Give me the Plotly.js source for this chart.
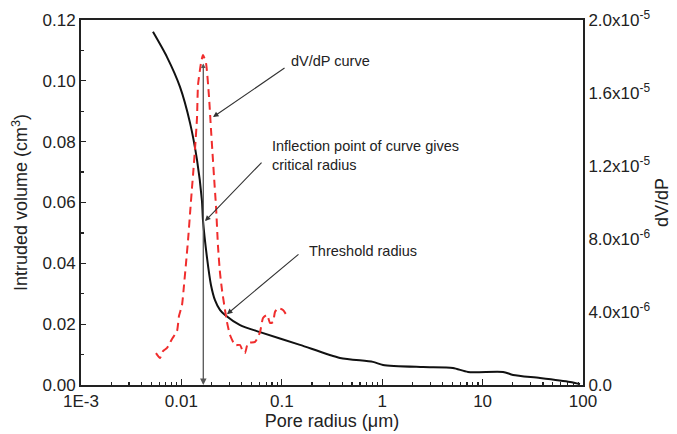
<!DOCTYPE html>
<html>
<head>
<meta charset="utf-8">
<script src="https://cdn.plot.ly/plotly-3.0.1.min.js"></script>
<style>html,body{margin:0;padding:0;background:#fff;}#chart{width:677px;height:434px;}</style>
</head>
<body>
<div id="chart"></div>
<script>
// Cumulative intruded volume (left axis)
const volRadius = [0.00521, 0.00719, 0.00968, 0.0122, 0.0143, 0.0160, 0.0164, 0.0180, 0.0197, 0.0216, 0.0242, 0.0272, 0.0384, 0.0607, 0.1517, 0.380, 0.809, 1.02, 2.55, 5.07, 7.16, 16.0, 20.1, 37.3, 74.3, 93.3];
const volValue  = [0.1161, 0.1078, 0.0980, 0.0861, 0.0740, 0.0608, 0.0542, 0.0418, 0.0329, 0.0279, 0.0247, 0.0230, 0.0197, 0.0174, 0.0132, 0.0089, 0.0076, 0.0066, 0.0059, 0.0056, 0.0043, 0.0043, 0.0033, 0.0023, 0.0010, 0.0003];

// dV/dP curve (right axis)
const dvdpRadius = [0.00558, 0.00612, 0.00656, 0.00719, 0.00806, 0.00904, 0.00946, 0.01014, 0.01062, 0.01112, 0.01165, 0.0122, 0.01277, 0.01306, 0.01368, 0.0143, 0.01464, 0.01568, 0.0164, 0.01758, 0.01884, 0.01973, 0.02114, 0.02213, 0.02317, 0.02424, 0.02537, 0.02718, 0.02845, 0.03048, 0.0342, 0.03837, 0.04111, 0.0430, 0.0461, 0.0541, 0.0607, 0.0650, 0.0713, 0.0763, 0.0817, 0.0855, 0.0916, 0.1028, 0.1127];
const dvdpValue  = [1.75e-6, 1.48e-6, 1.86e-6, 2.03e-6, 2.52e-6, 2.96e-6, 3.78e-6, 4.38e-6, 5.48e-6, 6.68e-6, 7.95e-6, 9.42e-6, 1.085e-5, 1.151e-5, 1.299e-5, 1.463e-5, 1.644e-5, 1.764e-5, 1.808e-5, 1.764e-5, 1.578e-5, 1.397e-5, 1.14e-5, 9.75e-6, 7.56e-6, 6.14e-6, 5.21e-6, 4.11e-6, 3.45e-6, 2.74e-6, 2.19e-6, 2.19e-6, 1.81e-6, 1.75e-6, 2.3e-6, 2.36e-6, 2.9e-6, 3.67e-6, 3.84e-6, 3.40e-6, 3.45e-6, 4.0e-6, 4.22e-6, 4.11e-6, 3.78e-6];

// Annotated points (radius, left-axis value)
const criticalRadius = 0.01652;
const criticalTop = 0.1062;
const dvdpPointer = [0.02065, 0.0881];
const inflectionPoint = [0.01718, 0.0539];
const thresholdPoint = [0.02845, 0.0233];

// Label anchors (radius, left-axis value)
const dvdpLabelPos = [0.118, 0.1065];
const inflectionLabelPos = [0.0762, 0.0753];
const thresholdLabelPos = [0.178, 0.0441];

// Ticks
const xTickVals = [0.001, 0.01, 0.1, 1, 10, 100];
const xTickText = ["1E-3", "0.01", "0.1", "1", "10", "100"];
const y2TickVals = [0, 4e-6, 8e-6, 1.2e-5, 1.6e-5, 2e-5];
const y2TickText = ["0.0", "4.0x10<sup>-6</sup>", "8.0x10<sup>-6</sup>", "1.2x10<sup>-5</sup>", "1.6x10<sup>-5</sup>", "2.0x10<sup>-5</sup>"];

const xMinor = [];
for (let d = -3; d < 2; d++) for (let k = 2; k <= 9; k++) xMinor.push(k * Math.pow(10, d));

const FONT = "Liberation Sans, Arial, sans-serif";
const TXT = "#222";

const traces = [
  { x: volRadius, y: volValue, type: "scatter", mode: "lines",
    line: { color: "#111", width: 2, shape: "spline", smoothing: 0.7 }, yaxis: "y", hoverinfo: "skip" },
  { x: dvdpRadius, y: dvdpValue, type: "scatter", mode: "lines",
    line: { color: "rgb(240,45,45)", width: 2, dash: "8px,5px", shape: "spline", smoothing: 0.5 }, yaxis: "y2", hoverinfo: "skip" }
];

const annFont = { family: FONT, size: 14.5, color: TXT };
const L = Math.log10;

const layout = {
  width: 677, height: 434,
  margin: { l: 81, r: 94, t: 20, b: 49 },
  paper_bgcolor: "#fff", plot_bgcolor: "#fff",
  showlegend: false,
  font: { family: FONT, size: 17, color: TXT },
  xaxis: {
    type: "log", range: [-3, 2],
    tickmode: "array", tickvals: xTickVals, ticktext: xTickText,
    ticks: "inside", ticklen: 6, tickwidth: 1.3, tickcolor: "#222",
    minor: { tickmode: "array", tickvals: xMinor, ticks: "inside", ticklen: 3, tickwidth: 1.2, tickcolor: "#222", showgrid: false },
    showline: true, linecolor: "#222", linewidth: 2, mirror: true,
    showgrid: false, zeroline: false,
    tickfont: { family: FONT, size: 17, color: TXT },
    title: { text: "Pore radius (\u03bcm)", font: { family: FONT, size: 18, color: TXT }, standoff: 4 }
  },
  yaxis: {
    range: [0, 0.12], tickmode: "linear", tick0: 0, dtick: 0.02, tickformat: ".2f",
    ticks: "inside", ticklen: 5, tickwidth: 1.3, tickcolor: "#222",
    minor: { dtick: 0.01, ticks: "inside", ticklen: 3, tickwidth: 1.2, tickcolor: "#222", showgrid: false },
    showline: true, linecolor: "#222", linewidth: 2, mirror: false,
    showgrid: false, zeroline: false,
    tickfont: { family: FONT, size: 17, color: TXT },
    title: { text: "Intruded volume (cm<sup>3</sup>)", font: { family: FONT, size: 18, color: TXT }, standoff: 10 }
  },
  yaxis2: {
    overlaying: "y", side: "right", range: [0, 2e-5],
    tickmode: "array", tickvals: y2TickVals, ticktext: y2TickText,
    ticks: "", showline: true, linecolor: "#222", linewidth: 2,
    showgrid: false, zeroline: false,
    tickfont: { family: FONT, size: 17, color: TXT },
    title: { text: "dV/dP", font: { family: FONT, size: 18, color: TXT }, standoff: 6 }
  },
  annotations: [
    // vertical critical-radius line
    { x: L(criticalRadius), y: 0, xref: "x", yref: "y",
      ax: L(criticalRadius), ay: criticalTop, axref: "x", ayref: "y",
      text: "", showarrow: true, arrowhead: 2, startarrowhead: 2, arrowside: "end+start",
      arrowsize: 1, arrowwidth: 1.3, arrowcolor: "#555", startarrowsize: 0.7 },
    // dV/dP curve arrow
    { x: L(dvdpPointer[0]), y: dvdpPointer[1], xref: "x", yref: "y",
      ax: 73, ay: -50, text: "", showarrow: true, arrowhead: 2, arrowsize: 1, arrowwidth: 1.1, arrowcolor: "#333" },
    { x: L(dvdpLabelPos[0]), y: dvdpLabelPos[1], xref: "x", yref: "y", xanchor: "left", yanchor: "middle",
      text: "dV/dP curve", showarrow: false, font: annFont },
    // inflection arrow
    { x: L(inflectionPoint[0]), y: inflectionPoint[1], xref: "x", yref: "y",
      ax: 58, ay: -60, text: "", showarrow: true, arrowhead: 2, arrowsize: 1, arrowwidth: 1.1, arrowcolor: "#333" },
    { x: L(inflectionLabelPos[0]), y: inflectionLabelPos[1], xref: "x", yref: "y", xanchor: "left", yanchor: "middle", align: "left",
      text: "Inflection point of curve gives<br>critical radius", showarrow: false, font: annFont },
    // threshold arrow
    { x: L(thresholdPoint[0]), y: thresholdPoint[1], xref: "x", yref: "y",
      ax: 73, ay: -61, text: "", showarrow: true, arrowhead: 2, arrowsize: 1, arrowwidth: 1.1, arrowcolor: "#333" },
    { x: L(thresholdLabelPos[0]), y: thresholdLabelPos[1], xref: "x", yref: "y", xanchor: "left", yanchor: "middle",
      text: "Threshold radius", showarrow: false, font: annFont }
  ]
};

Plotly.newPlot("chart", traces, layout, { displayModeBar: false, staticPlot: true });
</script>
</body>
</html>
